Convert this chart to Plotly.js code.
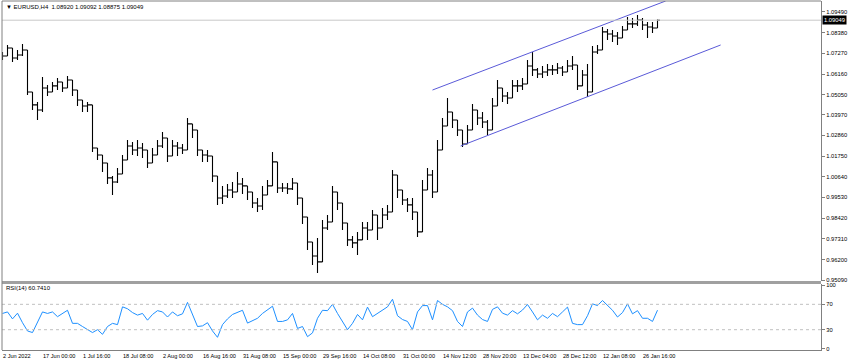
<!DOCTYPE html>
<html>
<head>
<meta charset="utf-8">
<script src="https://cdn.plot.ly/plotly-3.0.1.min.js"></script>
<style>html,body{margin:0;padding:0;background:#fff;}#chart{width:850px;height:364px;}</style>
</head>
<body>
<div id="chart"></div>
<script>
// EURUSD H4 – sampled bars (one sample every 8 H4 bars)
const closePrices = [1.0713,1.0756,1.0702,1.0718,1.0745,1.0519,1.0450,1.0423,1.0541,1.0519,
1.0552,1.0573,1.0541,1.0584,1.0530,1.0476,1.0444,1.0450,1.0219,1.0181,
1.0138,1.0058,1.0036,1.0079,1.0154,1.0229,1.0208,1.0219,1.0208,1.0138,
1.0181,1.0229,1.0272,1.0176,1.0229,1.0219,1.0208,1.0348,1.0315,1.0208,
1.0181,1.0176,1.0068,0.9950,0.9961,0.9993,0.9982,1.0025,1.0015,0.9982,
0.9923,0.9907,0.9966,1.0015,1.0144,1.0004,1.0004,0.9999,1.0031,0.9950,
0.9848,0.9714,0.9639,0.9607,0.9789,0.9821,0.9982,0.9923,0.9816,0.9725,
0.9709,0.9725,0.9789,0.9778,0.9859,0.9789,0.9859,0.9875,1.0074,0.9993,
0.9939,0.9913,0.9875,0.9768,0.9993,1.0074,0.9982,1.0208,1.0337,1.0412,
1.0369,1.0315,1.0240,1.0315,1.0423,1.0380,1.0358,1.0315,1.0444,1.0541,
1.0498,1.0487,1.0552,1.0552,1.0562,1.0659,1.0638,1.0616,1.0627,1.0638,
1.0638,1.0648,1.0627,1.0659,1.0664,1.0552,1.0611,1.0519,1.0734,1.0745,
1.0842,1.0831,1.0820,1.0809,1.0852,1.0885,1.0885,1.0906,1.0879,1.0868,
1.0863,1.09049];

const highPrices = [1.0734,1.0772,1.0734,1.0745,1.0777,1.0638,1.0503,1.0466,1.0600,1.0557,
1.0573,1.0595,1.0562,1.0605,1.0573,1.0509,1.0476,1.0466,1.0288,1.0219,
1.0181,1.0111,1.0068,1.0111,1.0181,1.0262,1.0251,1.0262,1.0246,1.0181,
1.0219,1.0262,1.0305,1.0208,1.0262,1.0251,1.0240,1.0380,1.0348,1.0262,
1.0208,1.0208,1.0111,1.0015,1.0015,1.0025,1.0036,1.0090,1.0058,1.0015,
0.9966,0.9950,1.0015,1.0047,1.0197,1.0047,1.0031,1.0031,1.0058,0.9982,
0.9886,0.9751,0.9682,0.9735,0.9832,0.9859,1.0015,0.9961,0.9859,0.9768,
0.9746,0.9768,0.9821,0.9821,0.9886,0.9821,0.9896,0.9913,1.0101,1.0036,
0.9982,0.9950,0.9950,0.9821,1.0047,1.0111,1.0101,1.0262,1.0380,1.0487,
1.0412,1.0358,1.0272,1.0342,1.0455,1.0423,1.0412,1.0369,1.0487,1.0584,
1.0541,1.0519,1.0584,1.0584,1.0595,1.0691,1.0734,1.0648,1.0659,1.0670,
1.0664,1.0675,1.0659,1.0691,1.0713,1.0605,1.0638,1.0670,1.0766,1.0772,
1.0868,1.0858,1.0852,1.0842,1.0874,1.0922,1.0917,1.0933,1.0917,1.0895,
1.0895,1.09092];

const lowPrices = [1.0691,1.0734,1.0680,1.0691,1.0713,1.0503,1.0423,1.0369,1.0412,1.0498,
1.0519,1.0530,1.0519,1.0541,1.0498,1.0444,1.0412,1.0412,1.0197,1.0154,
1.0090,1.0025,0.9966,1.0031,1.0101,1.0197,1.0181,1.0176,1.0165,1.0111,
1.0144,1.0197,1.0219,1.0144,1.0197,1.0176,1.0186,1.0294,1.0272,1.0176,
1.0144,1.0144,1.0036,0.9913,0.9918,0.9950,0.9950,0.9993,0.9972,0.9939,
0.9896,0.9875,0.9886,0.9982,1.0101,0.9977,0.9982,0.9972,0.9993,0.9913,
0.9811,0.9671,0.9590,0.9547,0.9725,0.9778,0.9939,0.9886,0.9778,0.9692,
0.9682,0.9644,0.9746,0.9725,0.9821,0.9725,0.9821,0.9832,1.0020,0.9950,
0.9913,0.9875,0.9832,0.9741,0.9950,1.0020,0.9950,1.0165,1.0294,1.0348,
1.0326,1.0283,1.0224,1.0283,1.0380,1.0342,1.0326,1.0288,1.0401,1.0503,
1.0466,1.0455,1.0519,1.0519,1.0530,1.0616,1.0605,1.0595,1.0595,1.0605,
1.0611,1.0616,1.0605,1.0627,1.0638,1.0530,1.0584,1.0493,1.0702,1.0723,
1.0809,1.0799,1.0788,1.0772,1.0831,1.0852,1.0863,1.0874,1.0852,1.0809,
1.0836,1.08875];

const firstOpen = 1.0705;

const rsiValues = [55.6,58,47,56,41,28,25.5,42,58,55.6,
58,50.5,56,60.6,40,40,35,30,25.5,30,
22.7,35,40,38,66,63,57,53,55.6,45,
54,60,58,50,58,52,55,73,55,35,
36,41,28,18,38,47,54,57,60.6,40.4,
44,48,55.6,62,67,43,43,45.5,55.6,32,
35,19,25,48,60.6,60,70,55.6,43,30,
40,54,45.5,65.6,50.5,56,60.6,66,78,52,
46,43,30,58,68,68,45.5,76,70,66,
60,43,35,58,64,53,46,43,62,66,
56,53,60,55,61,69.7,58,45.5,53,48,
55.6,50.5,58,65.6,40,38,38,52,70.7,68,
76,68,60.6,50,57,70.7,55,60,48,48,
43,60.741];

const timeLabels = ["2 Jun 2022","17 Jun 00:00","1 Jul 16:00","18 Jul 08:00","2 Aug 00:00",
"16 Aug 16:00","31 Aug 08:00","15 Sep 00:00","29 Sep 16:00","14 Oct 08:00","31 Oct 00:00",
"14 Nov 12:00","28 Nov 20:00","13 Dec 04:00","28 Dec 12:00","12 Jan 08:00","26 Jan 16:00"];
const barsPerLabel = 64;
const barsPerSample = 8;

const priceTicks = [1.09490,1.08380,1.07270,1.06160,1.05050,1.03970,1.02860,1.01750,1.00640,0.99530,0.98420,0.97310,0.96200,0.95090];
const rsiTicks = [0,30,70,100];

// Channel (trend lines), in bar index / price
const upperLineBars = [688, 1061];
const upperLinePrices = [1.05301, 1.10080];
const lowerLineBars = [733, 1149];
const lowerLinePrices = [1.02294, 1.07718];

const lastBar = {open:1.08920, high:1.09092, low:1.08875, close:1.09049};

// ---- build ----
const barX = closePrices.map((_, k) => k * barsPerSample);
const openPrices = closePrices.map((c, k) => k === 0 ? firstOpen : closePrices[k - 1]);
const hi = highPrices.map((h, k) => Math.max(h, openPrices[k], closePrices[k]));
const lo = lowPrices.map((l, k) => Math.min(l, openPrices[k], closePrices[k]));

const tickBars = timeLabels.map((_, i) => i * barsPerLabel);

const traces = [
  {
    type: 'ohlc', x: barX, open: openPrices, high: hi, low: lo, close: closePrices,
    xaxis: 'x', yaxis: 'y', tickwidth: 0.5,
    increasing: {line: {color: '#000000', width: 1.1}},
    decreasing: {line: {color: '#000000', width: 1.1}},
    hoverinfo: 'skip'
  },
  {
    type: 'scatter', mode: 'lines', x: upperLineBars, y: upperLinePrices,
    xaxis: 'x', yaxis: 'y', line: {color: '#5a5ad8', width: 1}, hoverinfo: 'skip'
  },
  {
    type: 'scatter', mode: 'lines', x: lowerLineBars, y: lowerLinePrices,
    xaxis: 'x', yaxis: 'y', line: {color: '#5a5ad8', width: 1}, hoverinfo: 'skip'
  },
  {
    type: 'scatter', mode: 'lines', x: barX, y: rsiValues,
    xaxis: 'x', yaxis: 'y2', line: {color: '#1e90ff', width: 1}, hoverinfo: 'skip'
  }
];

const fontFam = 'Liberation Sans, Arial, sans-serif';
const layout = {
  width: 850, height: 364,
  margin: {l: 2, r: 29, t: 1, b: 14, pad: 0},
  paper_bgcolor: '#ffffff', plot_bgcolor: '#ffffff',
  showlegend: false,
  font: {family: fontFam, size: 6, color: '#000000'},
  xaxis: {
    range: [-0.8, 1309.6], anchor: 'y2', showgrid: false, zeroline: false,
    showline: true, linecolor: '#808080', linewidth: 1,
    tickmode: 'array', tickvals: tickBars, ticktext: timeLabels,
    ticks: '', ticklabelposition: 'outside right', tickangle: 0, ticklabelstandoff: 0,
    tickfont: {family: fontFam, size: 5.6, color: '#000'},
    rangeslider: {visible: false}, fixedrange: true
  },
  yaxis: {
    domain: [0.1977, 1], range: [0.95044, 1.1008], side: 'right', anchor: 'x',
    showgrid: false, zeroline: false, showline: true, linecolor: '#808080', linewidth: 1,
    tickmode: 'array', tickvals: priceTicks, ticktext: priceTicks.map(v => v.toFixed(5)),
    ticks: 'outside', ticklen: 3, tickcolor: '#808080',
    tickfont: {family: fontFam, size: 5.8, color: '#000'}, fixedrange: true
  },
  yaxis2: {
    domain: [0, 0.1891], range: [-2, 102], side: 'right', anchor: 'x',
    showgrid: false, zeroline: false, showline: true, linecolor: '#808080', linewidth: 1,
    tickmode: 'array', tickvals: rsiTicks, ticktext: rsiTicks.map(String),
    ticks: 'outside', ticklen: 3, tickcolor: '#808080',
    tickfont: {family: fontFam, size: 5.8, color: '#000'}, fixedrange: true
  },
  shapes: [
    {type: 'line', xref: 'paper', x0: 0, x1: 1, yref: 'y', y0: lastBar.close, y1: lastBar.close,
     line: {color: '#c8c8c8', width: 1}},
    {type: 'line', xref: 'paper', x0: 0, x1: 1, yref: 'y2', y0: 70, y1: 70,
     line: {color: '#c0c0c0', width: 1, dash: 'dot'}},
    {type: 'line', xref: 'paper', x0: 0, x1: 1, yref: 'y2', y0: 30, y1: 30,
     line: {color: '#c0c0c0', width: 1, dash: 'dot'}},
    {type: 'rect', xref: 'paper', x0: 0, x1: 1, yref: 'paper', y0: 0.1891, y1: 0.1977,
     fillcolor: '#a0a0a0', line: {width: 0}},
    {type: 'line', xref: 'paper', x0: 0, x1: 0, yref: 'paper', y0: 0, y1: 1,
     line: {color: '#808080', width: 1}},
    {type: 'line', xref: 'paper', x0: 0, x1: 1, yref: 'paper', y0: 1, y1: 1,
     line: {color: '#808080', width: 1}}
  ],
  annotations: [
    {xref: 'paper', yref: 'paper', x: 0.003, y: 0.983, xanchor: 'left', yanchor: 'middle',
     showarrow: false, font: {family: fontFam, size: 6, color: '#000'},
     text: '\u25BC\u00a0EURUSD,H4\u00a0\u00a0' + lastBar.open.toFixed(5) + '\u00a0' + lastBar.high.toFixed(5) + '\u00a0' + lastBar.low.toFixed(5) + '\u00a0' + lastBar.close.toFixed(5)},
    {xref: 'paper', yref: 'paper', x: 0.003, y: 0.178, xanchor: 'left', yanchor: 'middle',
     showarrow: false, font: {family: fontFam, size: 6, color: '#000'},
     text: 'RSI(14) ' + rsiValues[rsiValues.length - 1].toFixed(4)},
    {xref: 'paper', yref: 'y', x: 1, y: lastBar.close, xanchor: 'left', yanchor: 'middle',
     xshift: 1, showarrow: false, bgcolor: '#000000', borderpad: 1,
     font: {family: fontFam, size: 5.8, color: '#ffffff'}, text: lastBar.close.toFixed(5)}
  ]
};

Plotly.newPlot('chart', traces, layout, {staticPlot: true, displayModeBar: false});
</script>
</body>
</html>
